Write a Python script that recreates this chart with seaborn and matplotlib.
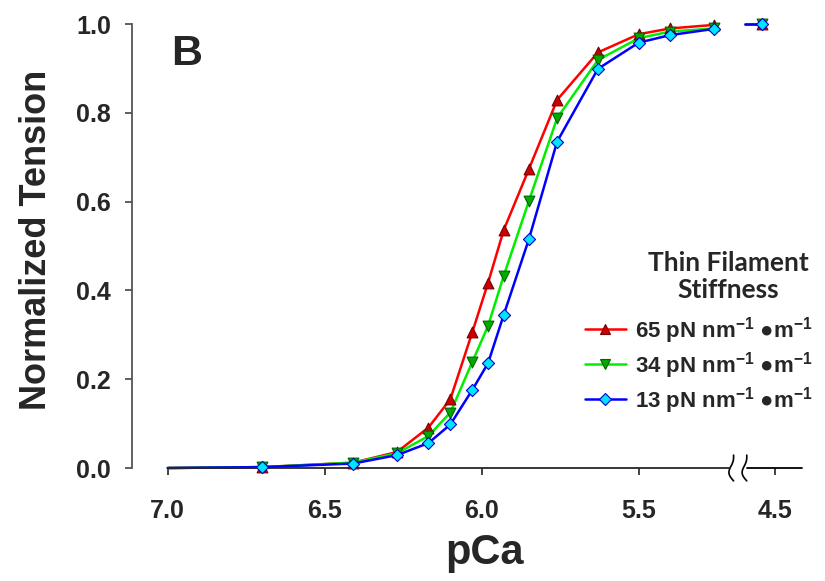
import numpy as np
import pandas as pd
import matplotlib
matplotlib.use('Agg')
import matplotlib.pyplot as plt
from matplotlib.lines import Line2D
import seaborn as sns

# data
pca = [6.70, 6.41, 6.27, 6.17, 6.10, 6.03, 5.98, 5.93, 5.85, 5.76, 5.63, 5.50, 5.40, 5.26, 4.5]
tension_65 = [0.002, 0.012, 0.036, 0.091, 0.155, 0.306, 0.417, 0.536, 0.673, 0.829, 0.936, 0.977, 0.990, 0.998, 1.0]
tension_34 = [0.002, 0.012, 0.033, 0.072, 0.125, 0.239, 0.320, 0.433, 0.601, 0.788, 0.919, 0.968, 0.983, 0.990, 1.0]
tension_13 = [0.002, 0.010, 0.029, 0.056, 0.098, 0.176, 0.236, 0.345, 0.515, 0.735, 0.899, 0.958, 0.975, 0.989, 1.0]
curve_start = 7.0
series_labels = ['65 pN nm$^{-1}$ ●m$^{-1}$', '34 pN nm$^{-1}$ ●m$^{-1}$', '13 pN nm$^{-1}$ ●m$^{-1}$']
tick_values = [7.0, 6.5, 6.0, 5.5, 4.5]
tick_labels = ['7.0', '6.5', '6.0', '5.5', '4.5']

# broken axis: pCa 4.5 is drawn just after the break
BREAK_MARKER_POS = 5.108
BREAK_TICK_POS = 5.067


def to_axis(p):
    return BREAK_MARKER_POS if p < 5.0 else p


sns.set_style('ticks')
plt.rcParams['font.family'] = ['Liberation Sans', 'DejaVu Sans']
plt.rcParams['font.weight'] = 'bold'
plt.rcParams['mathtext.fontset'] = 'custom'
plt.rcParams['mathtext.rm'] = 'Liberation Sans:bold'
plt.rcParams['mathtext.it'] = 'Liberation Sans:bold'
plt.rcParams['mathtext.bf'] = 'Liberation Sans:bold'

df = pd.DataFrame({
    'pCa': pca * 3,
    'pos': [to_axis(p) for p in pca] * 3,
    'tension': tension_65 + tension_34 + tension_13,
    'stiffness': sum([[lab] * len(pca) for lab in series_labels], []),
})

line_colors = ['#FF0000', '#00EE00', '#0000FF']
face_colors = ['#CC0000', '#00AA00', '#00E5FF']
edge_colors = ['#7A0000', '#006400', '#0000CC']
markers = ['^', 'v', 'D']
msizes = [60, 60, 38]

fig = plt.figure(figsize=(8.25, 5.81), dpi=100)
ax = fig.add_axes([132 / 825, 113 / 581, 670 / 825, 444 / 581])

for lab, lc, fc, ec, mk, ms in zip(series_labels, line_colors, face_colors, edge_colors, markers, msizes):
    sub = df[df['stiffness'] == lab]
    main = sub[sub['pCa'] > 5.0]
    xs = [curve_start] + list(main['pos'])
    ys = [0.0] + list(main['tension'])
    sns.lineplot(x=xs, y=ys, ax=ax, color=lc, lw=1.8, sort=False, estimator=None, clip_on=False)
    last = sub[sub['pCa'] < 5.0]
    ax.plot([5.162, last['pos'].iloc[0]], [last['tension'].iloc[0]] * 2, color=lc, lw=1.8, clip_on=False)
    sns.scatterplot(data=sub, x='pos', y='tension', ax=ax, marker=mk, s=ms, color=fc,
                    edgecolor=ec, linewidth=0.8, zorder=5, clip_on=False)

ax.set_xlim(7.114, 4.98)
ax.set_ylim(0, 1.0)
ax.set_xticks([to_axis(v) if v > 5 else BREAK_TICK_POS for v in tick_values])
ax.set_xticklabels(tick_labels)
ax.set_yticks([0.0, 0.2, 0.4, 0.6, 0.8, 1.0])
ax.set_yticklabels(['0.0', '0.2', '0.4', '0.6', '0.8', '1.0'])
ax.tick_params(axis='x', length=5, width=1.2, pad=17, labelsize=18, color='#222222')
ax.tick_params(axis='y', length=5, width=1.2, pad=10, labelsize=18, color='#444444')
for t in ax.get_xticklabels() + ax.get_yticklabels():
    t.set_fontweight('bold')

sns.despine(ax=ax)
ax.spines['left'].set_bounds(0, 1.0)
ax.spines['left'].set_color('#555555')
ax.spines['left'].set_linewidth(1.3)
ax.spines['bottom'].set_bounds(7.0, 5.21)
ax.spines['bottom'].set_linewidth(1.3)
ax.plot([5.156, 4.98], [0, 0], color='black', lw=1.3, clip_on=False)

# break marks
t = np.linspace(0, 1, 30)
for xb in [5.198, 5.156]:
    bx = xb + 0.011 * np.sin(np.pi * t) - 0.006 * np.sin(2 * np.pi * t)
    by = 0.029 - 0.058 * t
    ax.plot(bx, by, color='black', lw=1.2, clip_on=False)

ax.set_xlabel('pCa', fontsize=30, fontweight='bold')
ax.set_ylabel('Normalized Tension', fontsize=26, fontweight='bold')
ax.xaxis.label.set_va('center')
ax.yaxis.label.set_va('center')
ax.xaxis.set_label_coords(0.527, -0.191)
ax.yaxis.set_label_coords(-0.142, 0.514)

ax.text(0.082, 0.932, 'B', transform=ax.transAxes, fontsize=31, fontweight='bold',
        ha='center', va='center')

ax.text(0.8896, 0.432, 'Thin Filament\nStiffness', transform=ax.transAxes, fontsize=19,
        fontweight='bold', ha='center', va='center', linespacing=1.15,
        family=['Lato', 'DejaVu Sans'])

handles = [Line2D([0], [0], color=lc, lw=1.8, marker=mk, markersize=7.5 if mk != 'D' else 5.8,
                  markerfacecolor=fc, markeredgecolor=ec, markeredgewidth=0.8)
           for lc, fc, ec, mk in zip(line_colors, face_colors, edge_colors, markers)]
leg = ax.legend(handles, series_labels, loc='upper left', bbox_to_anchor=(0.676, 0.345),
                frameon=False, fontsize=16, handlelength=1.85, handletextpad=0.42,
                labelspacing=0.18, borderpad=0, borderaxespad=0, markerscale=1.0)
for txt in leg.get_texts():
    txt.set_fontweight('bold')

fig.savefig('out.png', dpi=100)
